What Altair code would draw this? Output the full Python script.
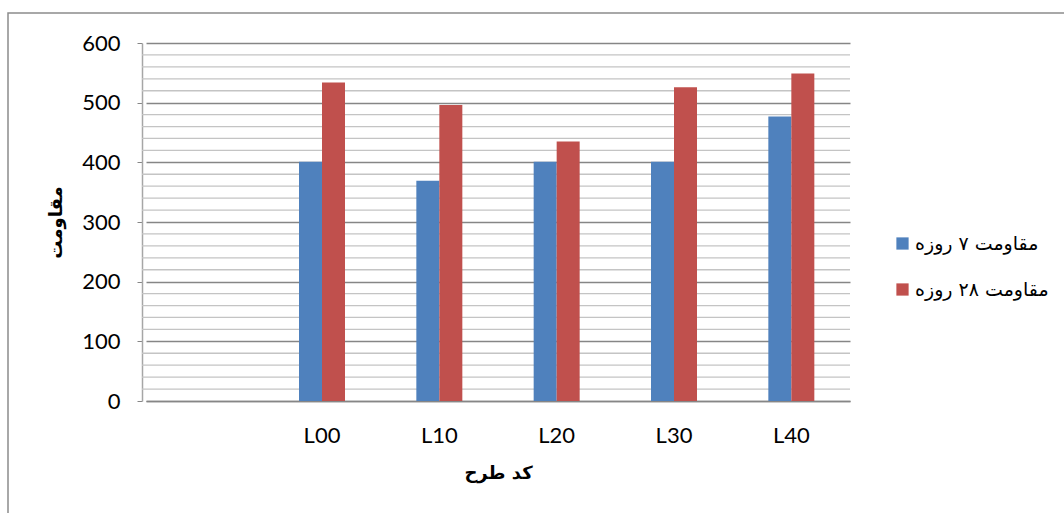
import altair as alt
import pandas as pd

# Design codes (first slot is an empty category on the axis)
categories = [" ", "L00", "L10", "L20", "L30", "L40"]
codes = ["L00", "L10", "L20", "L30", "L40"]
strength_7 = [401, 369, 401, 401, 477]
strength_28 = [534, 496, 435, 526, 549]
series_names = ["مقاومت ۷ روزه", "مقاومت ۲۸ روزه"]
series_colors = ["#4f81bd", "#c0504d"]
minor_ticks = [v for v in range(20, 600, 20) if v % 100 != 0]

rows = []
for c, a, b in zip(codes, strength_7, strength_28):
    rows.append({"code": c, "series": series_names[0], "value": a})
    rows.append({"code": c, "series": series_names[1], "value": b})
df = pd.DataFrame(rows)
minor_df = pd.DataFrame({"v": minor_ticks})

W, H = 708, 358
PAD_L, PAD_T = 142, 43
FULL_W, FULL_H = 1064, 513

y_scale = alt.Scale(domain=[0, 600], nice=False)

frame = alt.Chart(pd.DataFrame({"k": [0]})).mark_rect(
    fill=None, stroke="#8c8c8c", strokeWidth=1.5
).encode(
    x=alt.value(8 - PAD_L),
    x2=alt.value(FULL_W + 5 - PAD_L),
    y=alt.value(13 - PAD_T),
    y2=alt.value(FULL_H + 5 - PAD_T),
)

minor = alt.Chart(minor_df).mark_rule(color="#c4c4c4", strokeWidth=1.3).encode(
    y=alt.Y("v:Q", scale=y_scale),
    x=alt.value(0),
    x2=alt.value(W),
)

bars = alt.Chart(df).mark_bar().encode(
    x=alt.X(
        "code:N",
        scale=alt.Scale(domain=categories, range=[4, W], paddingInner=0.608, paddingOuter=0.304),
        axis=alt.Axis(
            title="كد طرح",
            labelAngle=0,
            ticks=False,
            labelPadding=24,
            titlePadding=18,
            domainColor="#868686",
            domainWidth=1.5,
        ),
    ),
    xOffset=alt.XOffset("series:N", sort=series_names),
    y=alt.Y(
        "value:Q",
        scale=y_scale,
        axis=alt.Axis(
            title="مقاومت",
            values=[0, 100, 200, 300, 400, 500, 600],
            tickSize=5,
            tickColor="#868686",
            labelPadding=17,
            titlePadding=16,
            gridColor="#868686",
            gridWidth=1.5,
            domainColor="#a6a6a6",
            domainWidth=1.5,
        ),
    ),
    color=alt.Color(
        "series:N",
        sort=series_names,
        scale=alt.Scale(domain=series_names, range=series_colors),
        legend=alt.Legend(
            title=None,
            orient="none",
            legendX=751,
            legendY=191,
            symbolType="square",
            symbolSize=150,
            symbolStrokeWidth=0,
            rowPadding=26,
            labelFont="DejaVu Sans",
            labelFontSize=19,
            labelColor="#000000",
            labelOffset=3,
        ),
    ),
)

chart = alt.layer(frame, minor, bars).properties(
    width=W,
    height=H,
    background="white",
    autosize=alt.AutoSizeParams(type="none"),
    padding={"left": PAD_L, "top": PAD_T, "right": FULL_W - PAD_L - W, "bottom": FULL_H - PAD_T - H},
).configure_view(stroke=None).configure_axis(
    labelFont="Lato",
    labelFontSize=22,
    labelColor="#000000",
    titleFont="DejaVu Sans",
    titleFontSize=18,
    titleFontWeight="bold",
    titleColor="#000000",
)

chart.save("out.html", embed_options={"renderer": "svg", "actions": False})
